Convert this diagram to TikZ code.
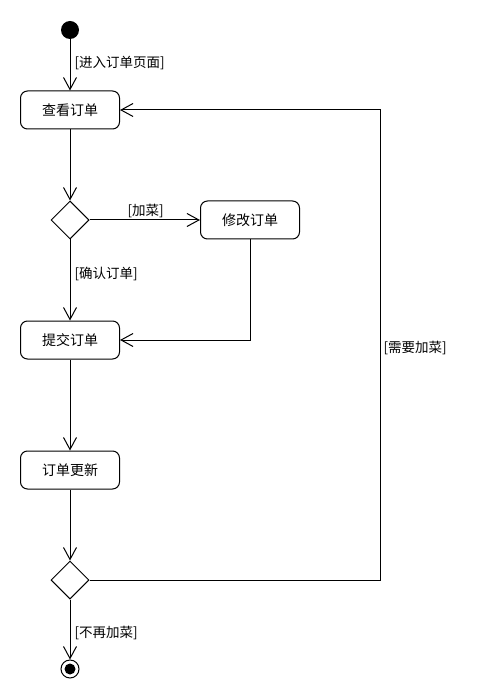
\documentclass[tikz,border=0pt]{standalone}
\usepackage{fontspec}
\newfontfamily\cjk{Noto Sans CJK SC}
\usetikzlibrary{arrows.meta,shapes.geometric}
\begin{document}
\begin{tikzpicture}[x=1pt,y=-1pt,
  font=\cjk\fontsize{14}{16}\selectfont,
  every path/.style={line width=1pt},
  act/.style={draw,rounded corners=7pt,minimum width=99pt,minimum height=38pt,inner sep=0pt},
  dec/.style={draw,diamond,minimum width=38pt,minimum height=38pt,inner sep=0pt},
  flow/.style={draw,-{Straight Barb[length=12pt,width=13pt]}},
  lab/.style={anchor=west,inner sep=0pt,font=\cjk\fontsize{13.5}{16}\selectfont}]
\useasboundingbox (0,0) rectangle (480,700);
\node[circle,fill=black,minimum size=18pt,inner sep=0pt] (start) at (70,30) {};
\node[act] (view) at (70,110) {查看订单};
\node[dec] (d1) at (70,220) {};
\node[act] (mod) at (250,220) {修改订单};
\node[act] (sub) at (70,340) {提交订单};
\node[act] (upd) at (70,470) {订单更新};
\node[dec] (d2) at (70,580) {};
\node[circle,draw,minimum size=18pt,inner sep=0pt] (end) at (70,669) {};
\node[circle,fill=black,minimum size=11pt,inner sep=0pt] (endin) at (70,669) {};
\coordinate (c1) at (250,340);
\coordinate (c2) at (380,580);
\coordinate (c3) at (380,110);

\draw[flow] (start) -- (view);
\node[lab] at (74,63) {[进入订单页面]};
\draw[flow] (view) -- (d1.north);
\draw[flow] (d1.east) -- (mod.west);
\node[lab] at (127,211) {[加菜]};
\draw[flow] (d1.south) -- (sub.north);
\node[lab] at (74,274) {[确认订单]};
\draw[flow] (mod.south) -- (c1) -- (sub.east);
\draw[flow] (sub) -- (upd);
\draw[flow] (upd) -- (d2.north);
\draw[flow] (d2.east) -- (c2) -- (c3) -- (view.east);
\node[lab] at (383,348) {[需要加菜]};
\draw[flow] (d2.south) -- (end.north);
\node[lab] at (74,633) {[不再加菜]};
\end{tikzpicture}
\end{document}
